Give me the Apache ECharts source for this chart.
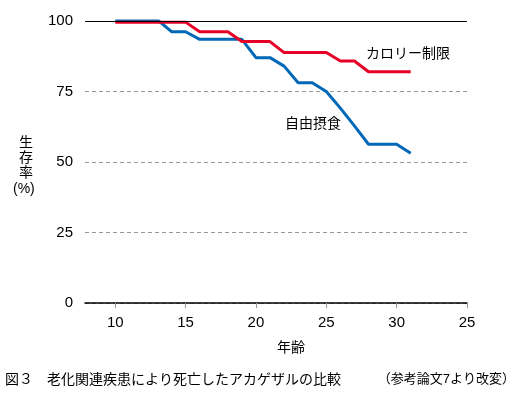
<!DOCTYPE html>
<html><head><meta charset="utf-8">
<script src="https://cdn.jsdelivr.net/npm/echarts@6/dist/echarts.min.js"></script>
<style>html,body{margin:0;padding:0;background:#fff}#c{width:519px;height:393px}</style>
</head><body><div id="c"></div>
<script>
// Data
const calorieRestricted = [[10,99.6],[15,99.6],[16,96.2],[18,96.2],[19,92.7],[21,92.7],[22,88.8],[25,88.8],[26,85.8],[27,85.8],[28,82],[31,82]];
const freeFeeding = [[10,100.4],[13,100.4],[14,96.2],[15,96.2],[16,93.5],[19,93.5],[20,87],[21,87],[22,84],[23,78.1],[24,78.1],[25,75],[26,69.1],[27,62.8],[28,56.3],[30,56.3],[31,53.1]];
const seriesNames = ['カロリー制限','自由摂食'];
const xTickValues = [10,15,20,25,30,35];
const xTickLabels = ['10','15','20','25','30','25'];
const xAxisName = '年齢';
const yAxisName = ['生','存','率','(%)'];
const caption = '図３　老化関連疾患により死亡したアカゲザルの比較';
const source = '（参考論文7より改変）';

const FONT = '"Liberation Sans", "Noto Sans CJK JP", sans-serif';
const chart = echarts.init(document.getElementById('c'), null, {renderer:'canvas'});
chart.setOption({
  animation:false,
  backgroundColor:'#fff',
  grid:{left:85, right:52, top:21, bottom:90, containLabel:false},
  xAxis:{
    type:'value', min:7.85, max:35,
    axisLine:{show:true, onZero:false, lineStyle:{color:'#000', width:1.5}},
    axisTick:{show:true, customValues:xTickValues, length:5, lineStyle:{color:'#999', width:1}},
    axisLabel:{customValues:xTickValues, color:'#000', fontSize:15, fontFamily:FONT, margin:12,
      formatter:function(v){ const i = xTickValues.indexOf(Math.round(v)); return i>=0 ? xTickLabels[i] : ''; }},
    splitLine:{show:false}
  },
  yAxis:{
    type:'value', min:0, max:100, interval:25,
    axisLine:{show:false}, axisTick:{show:false},
    axisLabel:{color:'#000', fontSize:15, fontFamily:FONT, margin:12},
    splitLine:{show:true, lineStyle:{color:'#999', type:[4,3], width:1}}
  },
  graphic:[
    {type:'text', left:19, top:136, style:{text:yAxisName.slice(0,3).join('\n'), fontSize:14, lineHeight:15, fill:'#000', fontFamily:FONT}},
    {type:'text', left:13, top:182, style:{text:yAxisName[3], fontSize:14, fill:'#000', fontFamily:FONT}},
    {type:'text', left:277, top:341, style:{text:xAxisName, fontSize:14, fill:'#000', fontFamily:FONT}},
    {type:'text', left:366, top:47, style:{text:seriesNames[0], fontSize:14, fill:'#000', fontFamily:FONT}},
    {type:'text', left:285, top:117, style:{text:seriesNames[1], fontSize:14, fill:'#000', fontFamily:FONT}},
    {type:'text', left:5, top:373, style:{text:caption, fontSize:14, fill:'#000', fontFamily:FONT}},
    {type:'text', right:4, top:373, style:{text:source, fontSize:13, fill:'#000', fontFamily:FONT}}
  ],
  series:[
    {name:seriesNames[1], type:'line', data:freeFeeding, showSymbol:false, symbol:'none',
     lineStyle:{color:'#0068B7', width:3}, z:3,
     markLine:{silent:true, symbol:'none', label:{show:false}, animation:false,
       lineStyle:{color:'#000', type:'solid', width:1.2}, data:[{yAxis:100}]}},
    {name:seriesNames[0], type:'line', data:calorieRestricted, showSymbol:false, symbol:'none',
     lineStyle:{color:'#E60027', width:3}, z:4}
  ]
});
</script></body></html>
